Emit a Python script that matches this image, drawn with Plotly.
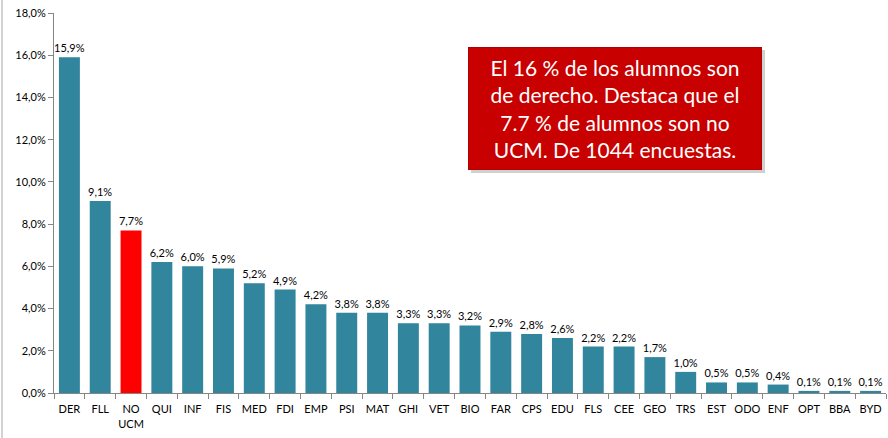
import plotly.graph_objects as go

categories = ["DER", "FLL", "NO<br>UCM", "QUI", "INF", "FIS", "MED", "FDI", "EMP", "PSI", "MAT", "GHI", "VET",
              "BIO", "FAR", "CPS", "EDU", "FLS", "CEE", "GEO", "TRS", "EST", "ODO", "ENF", "OPT", "BBA", "BYD"]
values = [15.9, 9.1, 7.7, 6.2, 6.0, 5.9, 5.2, 4.9, 4.2, 3.8, 3.8, 3.3, 3.3,
          3.2, 2.9, 2.8, 2.6, 2.2, 2.2, 1.7, 1.0, 0.5, 0.5, 0.4, 0.1, 0.1, 0.1]
tick_vals = [0, 2, 4, 6, 8, 10, 12, 14, 16, 18]

colors = ["#FF0000" if c.startswith("NO") else "#31859C" for c in categories]
labels = [f"{v:.1f}%".replace(".", ",") for v in values]

fig = go.Figure(go.Bar(
    x=categories, y=values, marker=dict(color=colors, line=dict(width=0)),
    text=labels, textposition="outside", cliponaxis=False, constraintext="none",
    textfont=dict(family="Lato", size=11, color="#000000"),
    width=0.68,
))
W, H = 888, 438
l, r, t, b = 54, 2, 13, 45
fig.update_layout(
    width=W, height=H, margin=dict(l=l, r=r, t=t, b=b),
    paper_bgcolor="white", plot_bgcolor="white",
    font=dict(family="Lato", size=11, color="#000000"),
    separators=",.",
    showlegend=False,
)
fig.update_yaxes(range=[0, 18], tickvals=tick_vals, ticktext=[f"{v:.1f}%".replace(".", ",") for v in tick_vals],
                 showgrid=False, showline=True, linecolor="#868686", linewidth=1,
                 ticks="outside", ticklen=5, tickcolor="#868686", zeroline=False,
                 tickfont=dict(family="Lato", size=11), automargin=False)
fig.update_xaxes(showgrid=False, showline=True, linecolor="#868686", linewidth=1,
                 ticks="outside", ticklen=5, tickcolor="#868686", tickson="boundaries",
                 tickangle=0, tickfont=dict(family="Lato", size=11), automargin=False,
                 ticklabelstandoff=6,
                 range=[-0.5, len(categories) - 0.5])
pw, ph = W - l - r, H - t - b
def px(x): return (x - l) / pw
def py(y): return 1 - (y - t) / ph
# frame line on left edge
fig.add_shape(type="line", xref="paper", yref="paper", x0=px(2), x1=px(2),
              y0=py(H), y1=py(0), line=dict(color="#A6A6A6", width=1))
# annotation box shadow
fig.add_shape(type="rect", xref="paper", yref="paper", x0=px(471), x1=px(765), y0=py(173), y1=py(50),
              fillcolor="rgba(120,120,120,0.35)", line=dict(width=0), layer="above")
fig.add_annotation(xref="paper", yref="paper", x=px(468), y=py(47), xanchor="left", yanchor="top",
                   showarrow=False, width=286, height=115, bgcolor="#C80000",
                   bordercolor="#B00000", borderwidth=1, borderpad=3,
                   text="El 16 % de los alumnos son<br>de derecho. Destaca que el<br>7.7 % de alumnos son no<br>UCM. De 1044 encuestas.",
                   font=dict(family="Lato", size=21, color="white"), align="center", valign="middle")
fig.write_html("out.html", config={"displayModeBar": False},
               post_script="document.body.style.margin='0';document.body.style.overflow='hidden';")
